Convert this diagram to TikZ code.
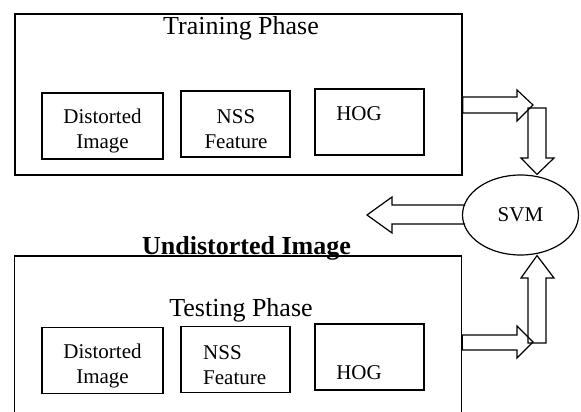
\documentclass[tikz,border=0pt]{standalone}
\usepackage{fontspec}
\setmainfont{Liberation Serif}
\usetikzlibrary{positioning,shapes.geometric}

\tikzset{
  phasebox/.style={draw, line width=1.6pt, minimum width=447pt, inner sep=0pt},
  featbox/.style={draw, line width=1.4pt, inner sep=0pt, minimum height=66pt},
  bigtxt/.style={font=\fontsize{26}{30}\selectfont, inner sep=0pt},
  smalltxt/.style={font=\fontsize{21}{25}\selectfont, align=center, inner sep=0pt},
  blockarrow/.style={draw, line width=1.2pt, line join=miter},
}

\begin{document}
\begin{tikzpicture}[x=1pt, y=-1pt]
  \useasboundingbox (0,0) rectangle (581,412);

  % Training phase
  \node[phasebox, minimum height=161pt] (train) at (238.5,94.5) {};
  \node[bigtxt] (traintitle) at (241,28) {Training Phase};
  \node[featbox, minimum width=121pt] (tdist) at (102.5,126) {};
  \node[featbox, minimum width=109pt] (tnss)  at (235.5,124) {};
  \node[featbox, minimum width=109pt] (thog)  at (369.5,122) {};
  \node[smalltxt] (tdisttxt) at (102.5,131) {Distorted\\Image};
  \node[smalltxt] (tnsstxt)  at (236,129) {NSS\\Feature};
  \node[smalltxt] (thogtxt)  at (359,114) {HOG};

  % SVM
  \node[draw, ellipse, line width=1.2pt, minimum width=116pt, minimum height=80pt,
        inner sep=0pt, font=\fontsize{21}{25}\selectfont] (svm) at (520.5,215) {SVM};

  % Undistorted output
  \node[font=\fontsize{26}{30}\selectfont\bfseries, anchor=base, inner sep=0pt]
    (undist) at (246.5,254) {Undistorted Image};

  % Testing phase (bottom edge is off the page)
  \node[phasebox, minimum height=180pt] (test) at (238,346) {};
  \node[bigtxt] (testtitle) at (241,310) {Testing Phase};
  \node[featbox, minimum width=121pt] (sdist) at (102.5,360.5) {};
  \node[featbox, minimum width=109pt] (snss)  at (235.5,359.5) {};
  \node[featbox, minimum width=109pt] (shog)  at (369.5,357) {};
  \node[smalltxt] (sdisttxt) at (102.5,366) {Distorted\\Image};
  \node[smalltxt, align=left, anchor=west] (snsstxt) at (203,365) {NSS\\Feature};
  \node[smalltxt] (shogtxt)  at (359,373) {HOG};

  % block arrows
  \draw[blockarrow] (train.east |- 0,97) -- (517,97) -- (517,90) -- (533,105)
    -- (517,121) -- (517,113) -- (train.east |- 0,113) -- cycle;
  \draw[blockarrow] (528,108) -- (546,108) -- (546,158) -- (554,158)
    -- (svm.north -| 537,0) -- (521,158) -- (528,158) -- cycle;
  \draw[blockarrow] (465,205) -- (392,205) -- (392,197) -- (367,215)
    -- (392,233) -- (392,224) -- (465,224);
  \draw[blockarrow] (test.east |- 0,335) -- (517,335) -- (517,326) -- (533,342)
    -- (517,358) -- (517,350) -- (test.east |- 0,350) -- cycle;
  \draw[blockarrow] (528,343) -- (546,343) -- (546,278) -- (554,278)
    -- (svm.south -| 537,0) -- (521,278) -- (528,278) -- cycle;
\end{tikzpicture}
\end{document}
